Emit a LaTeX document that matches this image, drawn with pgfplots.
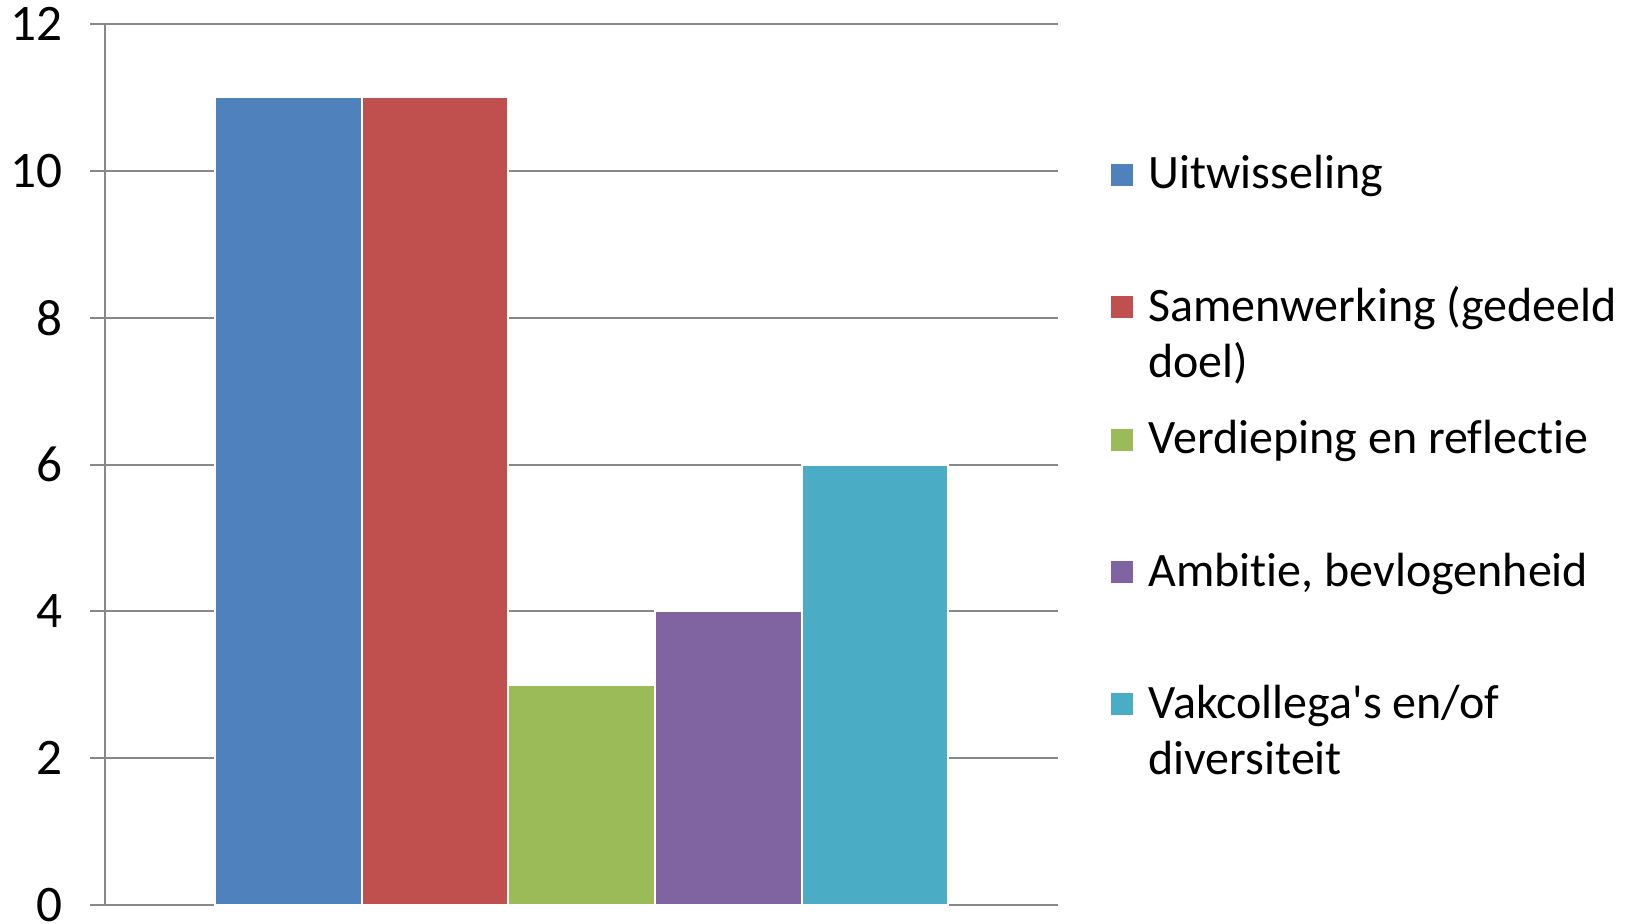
\documentclass[border=0pt]{standalone}
\usepackage{fontspec}
\setmainfont{Carlito}[Ligatures=NoCommon]
\usepackage{pgfplots}
\pgfplotsset{compat=1.18}
\definecolor{c1}{HTML}{4F81BD}
\definecolor{c2}{HTML}{C0504D}
\definecolor{c3}{HTML}{9BBB59}
\definecolor{c4}{HTML}{8064A2}
\definecolor{c5}{HTML}{4BACC6}
\definecolor{gridc}{HTML}{888888}
\begin{document}
\begin{tikzpicture}
\begin{axis}[
  name=main,
  scale only axis, width=381.2pt, height=352.4pt,
  xmin=-0.25, xmax=6.25, ymin=0, ymax=12,
  ytick={0,2,4,6,8,10,12}, xtick=\empty,
  axis lines=left,
  axis line style={draw=gridc, line width=0.8pt, -},
  ymajorgrids, grid style={draw=gridc, line width=0.8pt},
  major tick length=6pt, tick align=outside,
  y tick style={draw=gridc, line width=0.8pt},
  /pgf/number format/assume math mode=true,
  yticklabel style={font=\fontsize{20.5}{24}\selectfont, anchor=east, inner sep=0pt, xshift=-11pt},
  ybar, bar width=1, bar shift=0pt,
  legend style={draw=none, fill=none, at={(1,1)}, anchor=north west,
    xshift=20pt, yshift=-53.7pt, inner sep=0pt, column sep=5.5pt, row sep=0pt,
    font=\fontsize{19.2}{22.4}\selectfont,
    nodes={inner sep=0pt, text height=12pt, text depth=40.96pt, anchor=base west}},
  legend cell align=left,
  legend image code/.code={\fill[#1] (0pt,0.8pt) rectangle (9.6pt,10.4pt);},
]
\addplot[fill=c1, draw=white, line width=0.8pt] coordinates {(1,11)};
\addlegendentry{Uitwisseling}
\addplot[fill=c2, draw=white, line width=0.8pt] coordinates {(2,11)};
\addlegendentry{\parbox[t]{220pt}{Samenwerking (gedeeld\\doel)}}
\addplot[fill=c3, draw=white, line width=0.8pt] coordinates {(3,3)};
\addlegendentry{Verdieping en reflectie}
\addplot[fill=c4, draw=white, line width=0.8pt] coordinates {(4,4)};
\addlegendentry{Ambitie, bevlogenheid}
\addplot[fill=c5, draw=white, line width=0.8pt] coordinates {(5,6)};
\addlegendentry{\parbox[t]{220pt}{Vakcollega\textquotesingle s en/of\\diversiteit}}
\end{axis}
\pgfresetboundingbox
\path[use as bounding box] ([xshift=-42pt,yshift=-7.2pt]main.south west) rectangle ([xshift=230.7pt,yshift=9.6pt]main.north east);
\end{tikzpicture}
\end{document}
